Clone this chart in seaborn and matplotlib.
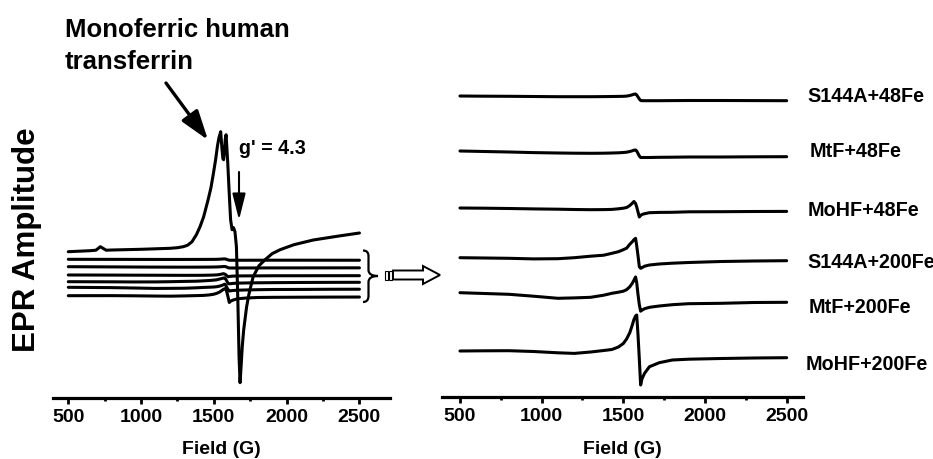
import numpy as np
import pandas as pd
import matplotlib
matplotlib.use("Agg")
import matplotlib.pyplot as plt
import seaborn as sns
from matplotlib.ticker import MultipleLocator
from matplotlib.path import Path
from matplotlib.patches import PathPatch, Polygon, Rectangle, FancyArrowPatch

# ---------------- data ----------------
# Left panel: monoferric human transferrin spectrum (a.u., relative to its start)
mono_field = [500, 650, 690, 720, 760, 800, 1000, 1200, 1250, 1290, 1320, 1350,
              1380, 1405, 1430, 1460, 1480, 1497, 1512, 1525, 1535, 1547, 1555,
              1562, 1567, 1573, 1578, 1584, 1595, 1605, 1615, 1625, 1635, 1645,
              1655, 1665, 1673, 1680, 1687, 1695, 1705, 1725, 1740, 1770, 1810,
              1852, 1900, 1955, 2050, 2183, 2350, 2500]
mono_amp = [0, 1, 1.5, 5, 1.5, 1.7, 2.4, 3.4, 4, 5, 6.5, 10,
            17, 25, 35, 51.7, 64, 78.4, 92, 106, 114, 120, 104,
            93, 92, 100, 112, 117, 90, 60, 32, 22, 24, 20,
            5, -50, -105, -131, -115, -95, -78, -55, -43, -25, -14,
            -8, -2, 2, 7, 11.7, 15.5, 18.7]
mono_offset = 145.8

# Six sample spectra (shared field grid, amplitude relative to start, a.u.)
samples = ["S144A+48Fe", "MtF+48Fe", "MoHF+48Fe",
           "S144A+200Fe", "MtF+200Fe", "MoHF+200Fe"]
field = [500, 650, 800, 950, 1100, 1200, 1300, 1380, 1430, 1470, 1500, 1520,
         1540, 1555, 1565, 1575, 1582, 1590, 1598, 1606, 1614, 1630, 1660,
         1720, 1800, 1900, 2100, 2300, 2500]
s144a_48 = [0, -0.2, -0.3, -0.5, -0.7, -0.7, -0.7, -0.6, -0.5, -0.4, -0.3, -0.1,
            0.5, 1.2, 1.8, 2, 1, -1, -3, -4.5, -4.7, -4.7, -4.7,
            -4.7, -4.6, -4.5, -4.5, -4.6, -4.7]
mtf_48 = [0, -0.5, -1, -1.6, -2, -2.2, -2.3, -2.2, -2, -1.8, -1.5, -1.2,
          -0.5, 0.2, 0.8, 1, 0, -2.5, -5, -6.5, -6.5, -6.5, -6.5,
          -6.3, -6.2, -6, -6, -5.8, -5.7]
mohf_48 = [0, -0.2, -0.5, -0.9, -1.2, -1.5, -1.7, -1.6, -1.4, -0.8, -0.2, 0.5,
           2.5, 4.8, 6.5, 4.5, 1, -4, -9, -7.5, -6.5, -5.7, -4.7,
           -4.4, -4.3, -3.8, -3.7, -3.5, -3.4]
s144a_200 = [0, -0.3, -0.6, -1.2, -1, 0, 1.5, 2.5, 4.4, 6, 8, 9.5,
             13.5, 16, 18, 19.4, 12, 2, -9, -10.6, -10, -8.5, -7.3,
             -6.3, -5.5, -4.8, -3.8, -3.3, -3]
mtf_200 = [0, -0.8, -1.6, -3.5, -5.6, -5.2, -4.6, -2.5, -0.6, 0.5, 1.5, 3,
           6, 9.4, 12.5, 15.7, 10, -2, -12, -18.5, -17.5, -16, -14.6,
           -13.3, -12, -11, -10.6, -9.8, -9.6]
mohf_200 = [0, 0.2, 0.3, -0.5, -1.8, -2.4, -1, 0.5, 1.5, 4, 7.5, 12,
            18.5, 26, 31.5, 35, 36, 16, -8, -34, -28, -22.3, -15.7,
            -11.7, -9, -8.2, -7.5, -7, -6.7]
sample_amps = [s144a_48, mtf_48, mohf_48, s144a_200, mtf_200, mohf_200]
right_offsets = [301, 246, 189, 139.3, 104.3, 46]
left_offsets = [138.2, 130.8, 122.5, 115.8, 110.2, 101.8]
left_scale = 0.2

xticks_major = 500
xticks_minor = 250

# ---------------- figure ----------------
sns.set_theme(style="white")
plt.rcParams["font.family"] = ["Liberation Sans", "DejaVu Sans"]
plt.rcParams["font.weight"] = "bold"
plt.rcParams["axes.labelweight"] = "bold"

W, H = 933, 459
fig = plt.figure(figsize=(W / 100, H / 100), dpi=100)


def fx(px):
    return px / W


def fy(py):
    return 1 - py / H


def rect(x0, y0, x1, y1):
    return [fx(x0), fy(y1), fx(x1) - fx(x0), fy(y0) - fy(y1)]


axL = fig.add_axes(rect(53.3, 60, 390, 397.5))
axR = fig.add_axes(rect(442, 60, 803, 397))

LW = 2.2
sns.lineplot(x=mono_field, y=np.array(mono_amp) + mono_offset, ax=axL,
             color="black", linewidth=LW, estimator=None, sort=False)
for amp, off in zip(sample_amps, left_offsets):
    sns.lineplot(x=field, y=np.array(amp) * left_scale + off, ax=axL,
                 color="black", linewidth=LW, estimator=None, sort=False)
for amp, off in zip(sample_amps, right_offsets):
    sns.lineplot(x=field, y=np.array(amp) + off, ax=axR,
                 color="black", linewidth=LW, estimator=None, sort=False)

axL.set_xlim(397, 2710)
axL.set_ylim(0, 337.5)
axR.set_xlim(390, 2600)
axR.set_ylim(0, 337)

for ax in (axL, axR):
    for s in ("top", "right", "left"):
        ax.spines[s].set_visible(False)
    ax.spines["bottom"].set_linewidth(2.3)
    ax.spines["bottom"].set_color("black")
    ax.set_yticks([])
    ax.xaxis.set_major_locator(MultipleLocator(xticks_major))
    ax.xaxis.set_minor_locator(MultipleLocator(xticks_minor))
    ax.tick_params(axis="x", which="major", direction="out", length=4,
                   width=2, color="black", labelsize=14, pad=4,
                   labelcolor="black", bottom=True)
    ax.tick_params(axis="x", which="minor", direction="out", length=2.5,
                   width=2, color="black", bottom=True)
    for lab in ax.get_xticklabels():
        lab.set_fontweight("bold")
    ax.set_xlabel("Field (G)", fontsize=14, fontweight="bold",
                  color="black", va="center")
    ax.set_ylabel("")
    ax.patch.set_alpha(0)

axL.xaxis.set_label_coords(0.5, -(449 - 397.5) / 337.5)
axR.xaxis.set_label_coords(0.5, -(450 - 397) / 337)

# y label
fig.text(fx(27), fy(240), "EPR Amplitude", rotation=90, ha="center",
         va="center", fontsize=22.5, fontweight="bold", color="black")

# header annotation
fig.text(fx(65), fy(37), "Monoferric human", ha="left", va="baseline",
         fontsize=18.5, fontweight="bold", color="black")
fig.text(fx(65), fy(69), "transferrin", ha="left", va="baseline",
         fontsize=18.5, fontweight="bold", color="black")
fig.text(fx(239), fy(153.5), "g' = 4.3", ha="left", va="baseline",
         fontsize=14.2, fontweight="bold", color="black")

fig.add_artist(FancyArrowPatch(
    (fx(166), fy(83)), (fx(208), fy(140)), transform=fig.transFigure,
    arrowstyle="-|>,head_length=0.9,head_width=0.3", mutation_scale=20,
    lw=2.4, color="black", shrinkA=0, shrinkB=0))
fig.add_artist(FancyArrowPatch(
    (fx(239), fy(172)), (fx(239), fy(220)), transform=fig.transFigure,
    arrowstyle="-|>,head_length=1.6,head_width=0.4", mutation_scale=10,
    lw=1.5, color="black", shrinkA=0, shrinkB=0))

# brace
bx, tip, spur = 368.5, 363, 378
verts = [(tip, 250.5), (bx, 250.5), (bx, 256), (bx, 270), (bx, 276), (spur, 276),
         (bx, 276), (bx, 282), (bx, 296), (bx, 302), (tip, 302)]
codes = [Path.MOVETO, Path.CURVE3, Path.CURVE3, Path.LINETO, Path.CURVE3,
         Path.CURVE3, Path.CURVE3, Path.CURVE3, Path.LINETO, Path.CURVE3,
         Path.CURVE3]
fig.add_artist(PathPatch(Path([(fx(a), fy(b)) for a, b in verts], codes),
                         transform=fig.transFigure, fill=False, lw=1.6,
                         edgecolor="black"))

# hollow arrow with tail bars
arrow_pts = [(393, 270.5), (423, 270.5), (423, 266), (440, 275), (423, 284),
             (423, 279.5), (393, 279.5)]
fig.add_artist(Polygon([(fx(a), fy(b)) for a, b in arrow_pts], closed=True,
                       transform=fig.transFigure, facecolor="white",
                       edgecolor="black", lw=1.4))
for x0 in (384.5, 388.8):
    fig.add_artist(Rectangle((fx(x0), fy(279.5)), fx(3), fy(270.5) - fy(279.5),
                             transform=fig.transFigure, facecolor="white",
                             edgecolor="black", lw=0.8))

# sample labels on the right
label_x = [807, 810, 808, 807, 809, 806]
label_base = [102, 157, 216, 268, 313, 370]
for name, lx, ly in zip(samples, label_x, label_base):
    fig.text(fx(lx), fy(ly), name, ha="left", va="baseline", fontsize=14.2,
             fontweight="bold", color="black")

fig.savefig("out.png", dpi=100)
